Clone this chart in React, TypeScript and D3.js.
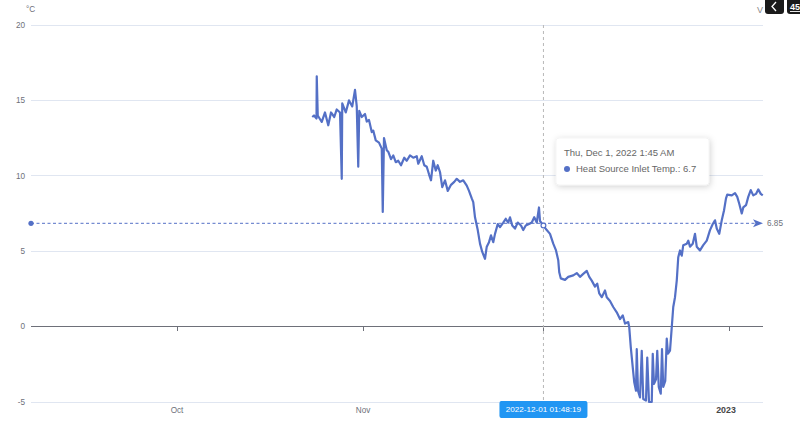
import React from "react";
import * as d3 from "d3";

// ---- data ----
const times: string[] = [
  "2022-10-23 13:00","2022-10-23 20:00","2022-10-24 06:00","2022-10-24 07:00","2022-10-24 11:00",
  "2022-10-25 03:00","2022-10-25 16:00","2022-10-26 05:00","2022-10-26 16:00","2022-10-27 05:00",
  "2022-10-27 15:00","2022-10-28 04:00","2022-10-28 11:00","2022-10-28 13:00","2022-10-29 03:00",
  "2022-10-29 16:00","2022-10-30 05:00","2022-10-30 16:00","2022-10-30 23:00","2022-10-31 05:00",
  "2022-10-31 09:00","2022-10-31 19:00","2022-11-01 08:00","2022-11-01 15:00","2022-11-02 00:00",
  "2022-11-02 11:00","2022-11-02 17:00","2022-11-03 03:00","2022-11-03 16:00","2022-11-04 03:00",
  "2022-11-04 07:00","2022-11-04 12:00","2022-11-04 23:00","2022-11-05 05:00","2022-11-05 16:00",
  "2022-11-06 01:00","2022-11-06 11:00","2022-11-06 21:00","2022-11-07 08:00","2022-11-07 21:00",
  "2022-11-08 07:00","2022-11-08 20:00","2022-11-09 09:00","2022-11-09 23:00","2022-11-10 05:00",
  "2022-11-10 19:00","2022-11-11 05:00","2022-11-11 15:00","2022-11-12 00:00","2022-11-12 08:00",
  "2022-11-12 17:00","2022-11-13 03:00","2022-11-13 11:00","2022-11-13 20:00","2022-11-14 05:00",
  "2022-11-14 16:00","2022-11-15 03:00","2022-11-15 16:00","2022-11-16 05:00","2022-11-16 15:00",
  "2022-11-17 04:00","2022-11-17 17:00","2022-11-18 07:00","2022-11-18 16:00","2022-11-19 03:00",
  "2022-11-19 09:00","2022-11-19 16:00","2022-11-20 03:00","2022-11-20 12:00","2022-11-20 21:00",
  "2022-11-21 08:00","2022-11-21 15:00","2022-11-22 00:00","2022-11-22 08:00","2022-11-22 17:00",
  "2022-11-23 00:00","2022-11-23 11:00","2022-11-23 20:00","2022-11-24 09:00","2022-11-24 19:00",
  "2022-11-25 05:00","2022-11-25 12:00","2022-11-25 21:00","2022-11-26 08:00","2022-11-26 19:00",
  "2022-11-27 08:00","2022-11-27 17:00","2022-11-28 03:00","2022-11-28 16:00","2022-11-29 03:00",
  "2022-11-29 13:00","2022-11-29 23:00","2022-11-30 08:00","2022-11-30 12:00","2022-12-01 01:45",
  "2022-12-01 15:00","2022-12-02 04:00","2022-12-02 17:00","2022-12-03 04:00","2022-12-03 13:00",
  "2022-12-03 17:00","2022-12-03 23:00","2022-12-04 16:00","2022-12-05 05:00","2022-12-06 01:00",
  "2022-12-06 15:00","2022-12-07 04:00","2022-12-07 17:00","2022-12-08 07:00","2022-12-08 17:00",
  "2022-12-09 03:00","2022-12-09 16:00","2022-12-10 01:00","2022-12-10 09:00","2022-12-10 19:00",
  "2022-12-11 08:00","2022-12-11 15:00","2022-12-12 04:00","2022-12-12 17:00","2022-12-13 07:00",
  "2022-12-13 20:00","2022-12-14 07:00","2022-12-14 16:00","2022-12-15 05:00","2022-12-15 09:00",
  "2022-12-15 15:00","2022-12-15 23:00","2022-12-16 05:00","2022-12-16 12:00","2022-12-16 15:00",
  "2022-12-16 20:00","2022-12-17 04:00","2022-12-17 11:00","2022-12-17 17:00","2022-12-18 04:00",
  "2022-12-18 09:00","2022-12-18 16:00","2022-12-19 03:00","2022-12-19 07:00","2022-12-19 12:00",
  "2022-12-19 20:00","2022-12-20 01:00","2022-12-20 07:00","2022-12-20 15:00","2022-12-20 20:00",
  "2022-12-21 01:00","2022-12-21 09:00","2022-12-21 15:00","2022-12-21 20:00","2022-12-22 04:00",
  "2022-12-22 11:00","2022-12-22 17:00","2022-12-23 00:00","2022-12-23 07:00","2022-12-23 13:00",
  "2022-12-23 20:00","2022-12-24 03:00","2022-12-24 09:00","2022-12-24 23:00","2022-12-25 05:00",
  "2022-12-25 12:00","2022-12-25 23:00","2022-12-26 08:00","2022-12-26 15:00","2022-12-27 04:00",
  "2022-12-27 17:00","2022-12-28 07:00","2022-12-28 20:00","2022-12-29 07:00","2022-12-29 16:00",
  "2022-12-29 23:00","2022-12-30 09:00","2022-12-30 19:00","2022-12-31 04:00","2022-12-31 12:00",
  "2022-12-31 17:00","2023-01-01 11:00","2023-01-02 00:00","2023-01-02 09:00","2023-01-02 17:00",
  "2023-01-03 03:00","2023-01-03 09:00","2023-01-03 20:00","2023-01-04 05:00","2023-01-04 15:00",
  "2023-01-05 01:00","2023-01-05 12:00","2023-01-05 21:00","2023-01-06 07:00","2023-01-06 15:00",
];
const temps: number[] = [
  13.9, 14.0, 13.8, 16.6, 14.0,
  13.57, 14.2, 13.35, 14.2, 13.9,
  14.4, 14.2, 9.8, 14.8, 14.2,
  15.0, 14.6, 15.7, 14.6, 10.6,
  14.3, 13.9, 14.1, 13.6, 13.7,
  12.9, 13.0, 12.35, 12.2, 11.8,
  7.6, 12.5, 11.7, 11.6, 11.1,
  11.35, 10.9, 11.0, 10.7, 11.2,
  11.0, 11.35, 11.2, 11.3, 10.8,
  11.3, 10.7, 10.6, 10.1, 9.7,
  11.0, 10.35, 10.7, 10.25, 9.25,
  9.7, 9.0, 9.4, 9.6, 9.8,
  9.6, 9.7, 9.35, 9.0, 8.5,
  8.25, 7.25, 6.4, 5.5, 4.95,
  4.5, 5.3, 5.6, 6.05, 5.6,
  6.15, 6.8, 6.6, 6.9, 7.15,
  6.9, 7.25, 6.7, 6.5, 6.9,
  6.7, 6.4, 6.7, 6.8, 6.9,
  7.25, 6.9, 7.9, 7.0, 6.7,
  6.4, 6.15, 5.5, 5.05, 4.4,
  3.6, 3.2, 3.1, 3.3, 3.4,
  3.55, 3.3, 3.5, 3.7, 3.3,
  3.05, 2.65, 2.85, 2.2, 1.95,
  2.4, 1.95, 1.7, 1.3, 0.95,
  0.5, 0.75, 0.2, 0.3, -0.05,
  -1.35, -2.7, -3.7, -4.25, -1.5,
  -4.25, -4.7, -1.6, -4.8, -4.9,
  -2.05, -5.0, -5.0, -1.8, -3.8,
  -3.5, -1.6, -4.0, -4.45, -1.5,
  -4.0, -3.6, -0.8, -1.8, -1.6,
  -0.05, 1.3, 1.95, 3.05, 4.6,
  5.05, 4.7, 5.4, 5.5, 5.7,
  5.3, 5.5, 6.15, 5.3, 5.05,
  5.4, 5.7, 6.4, 6.8, 7.05,
  6.5, 6.15, 7.05, 7.7, 8.5,
  8.75, 8.7, 8.85, 8.6, 8.15,
  7.5, 7.9, 8.05, 8.6, 9.05,
  8.7, 8.8, 9.1, 8.8, 8.7,
];
const yTicks: number[] = [-5, 0, 5, 10, 15, 20];
const xTickDates: string[] = ["2022-10-01 00:00", "2022-11-01 00:00", "2022-12-01 00:00", "2023-01-01 00:00"];
const xTickLabels: string[] = ["Oct", "Nov", "Dec", "2023"];
const xTickBold: boolean[] = [false, false, false, true];
const xDomain: string[] = ["2022-09-06 16:00", "2023-01-06 16:00"];
const yDomain: number[] = [-5, 20];
const unitLabel = "°C";
const markValue = 6.85;
const pointerTime = "2022-12-01 01:48";
const pointerLabel = "2022-12-01 01:48:19";
const hoverTime = "2022-12-01 01:45";
const hoverValue = 6.7;
const tooltipTitle = "Thu, Dec 1, 2022 1:45 AM";
const seriesName = "Heat Source Inlet Temp.";

const BLUE = "#5470c6";
const FONT = "'Liberation Sans', Arial, sans-serif";

export default function App() {
  const W = 800, H = 426;
  const left = 31, right = 763, top = 25, bottom = 402;
  const parse = d3.timeParse("%Y-%m-%d %H:%M");
  const x = d3.scaleTime()
    .domain([parse(xDomain[0])!, parse(xDomain[1])!])
    .range([left, right]);
  const y = d3.scaleLinear().domain(yDomain).range([bottom, top]);

  const data = times.map((t, i) => ({ t: parse(t)!, v: temps[i] }));
  const line = d3.line<{ t: Date; v: number }>()
    .x((d) => x(d.t))
    .y((d) => y(d.v));

  const my = y(markValue);
  const px = x(parse(pointerTime)!);
  const hx = x(parse(hoverTime)!);
  const hy = y(hoverValue);
  const boxW = 88;
  const boxL = px - boxW / 2;

  return (
    <svg width={W} height={H} style={{ position: "fixed", left: 0, top: 0, background: "#fff" }} fontFamily={FONT}>
      <defs>
        <filter id="sh" x="-20%" y="-30%" width="140%" height="160%">
          <feDropShadow dx="1" dy="1.5" stdDeviation="3" floodColor="#000" floodOpacity="0.18" />
        </filter>
        <clipPath id="tr"><rect x={0} y={0} width={800} height={426} /></clipPath>
      </defs>

      {/* grid */}
      {yTicks.map((t) => (
        <line key={t} x1={left} x2={right} y1={y(t)} y2={y(t)}
          stroke={t === 0 ? "#6E7079" : "#E0E6F1"} strokeWidth={1} shapeRendering="crispEdges" />
      ))}
      {yTicks.map((t) => (
        <text key={"l" + t} x={25} y={y(t)} dy="0.35em" textAnchor="end" fontSize={8.2} fill="#6E7079">{t}</text>
      ))}
      <text x={30.5} y={12} textAnchor="middle" fontSize={8.2} fill="#6E7079">{unitLabel}</text>

      {/* x ticks on zero line */}
      {xTickDates.map((d) => (
        <line key={"t" + d} x1={x(parse(d)!)} x2={x(parse(d)!)} y1={y(0)} y2={y(0) + 4}
          stroke="#6E7079" strokeWidth={1} shapeRendering="crispEdges" />
      ))}
      {xTickDates.map((d, i) => {
        const tx = x(parse(d)!);
        // the label under the axis-pointer box is hidden by it, as in the reference
        if (tx > boxL - 8 && tx < boxL + boxW + 8) return null;
        return (
          <text key={"x" + d} x={tx - (xTickBold[i] ? 3 : 0)} y={413} textAnchor="middle" fontSize={xTickBold[i] ? 8.8 : 8.2}
            fontWeight={xTickBold[i] ? "bold" : "normal"} fill={xTickBold[i] ? "#464646" : "#6E7079"}>{xTickLabels[i]}</text>
        );
      })}

      {/* crosshair */}
      <line x1={px} x2={px} y1={top} y2={bottom} stroke="#B8B8B8" strokeWidth={1} strokeDasharray="3,3" />

      {/* series */}
      <path d={line(data) || ""} fill="none" stroke={BLUE} strokeWidth={2.2} strokeLinejoin="round" />

      {/* mark line */}
      <line x1={left} x2={right - 6} y1={my} y2={my} stroke={BLUE} strokeWidth={1} strokeDasharray="3,2.5" />
      <circle cx={left} cy={my} r={2.6} fill={BLUE} />
      <path d={`M${right},${my} L${right - 10},${my - 4} L${right - 7.5},${my} L${right - 10},${my + 4} Z`} fill={BLUE} />
      <text x={right + 4} y={my} dy="0.35em" fontSize={8.2} fill="#6E7079">{markValue}</text>

      {/* hover symbol */}
      <circle cx={hx} cy={hy} r={2.4} fill="#fff" stroke={BLUE} strokeWidth={1.2} />

      {/* axis pointer label */}
      <rect x={boxL} y={401} width={boxW} height={17} rx={2} fill="#2196F3" />
      <text x={px} y={409.5} dy="0.35em" textAnchor="middle" fontSize={8.1} fill="#fff">{pointerLabel}</text>

      {/* tooltip */}
      <rect x={556} y={138} width={153} height={47} rx={3} fill="#fff" stroke="#eee" strokeWidth={0.6} filter="url(#sh)" />
      <text x={564} y={153} dy="0.35em" fontSize={9.5} fill="#666">{tooltipTitle}</text>
      <circle cx={567} cy={169} r={3} fill={BLUE} />
      <text x={576} y={169} dy="0.35em" fontSize={9.5} fill="#666">{seriesName + ": " + hoverValue}</text>

      {/* top-right toolbar fragments */}
      <g clipPath="url(#tr)">
        <text x={757} y={13} fontSize={9} fill="#888">V</text>
        <rect x={765} y={-4} width={19} height={18} rx={3} fill="#1a1a1a" />
        <path d="M776,2 L772,6.5 L776,11" fill="none" stroke="#fff" strokeWidth={1.3} />
        <rect x={787} y={-4} width={20} height={18} rx={3} fill="#1a1a1a" />
        <text x={790} y={10} fontSize={9} fontWeight="bold" fill="#fff" textDecoration="underline">45</text>
      </g>
    </svg>
  );
}
